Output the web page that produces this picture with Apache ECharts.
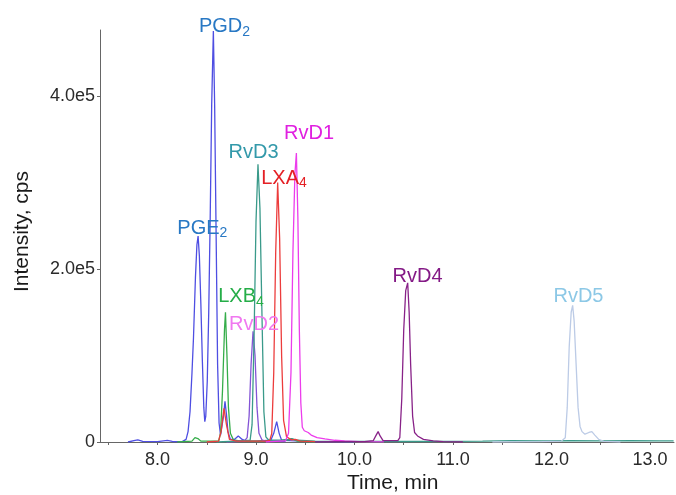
<!DOCTYPE html>
<html>
<head>
<meta charset="utf-8">
<script src="https://cdn.jsdelivr.net/npm/echarts@6/dist/echarts.min.js"></script>
<style>html,body{margin:0;padding:0;background:#fff}#c{width:676px;height:495px}</style>
</head>
<body>
<div id="c"></div>
<script>
// ---- data: [time (min), intensity (cps)] ----
const pgTrace = [[7.70,0],[7.76,1500],[7.80,2500],[7.85,800],[8.00,500],[8.10,1800],[8.15,600],[8.25,500],[8.29,3000],[8.31,12000],[8.33,35000],[8.35,80000],[8.365,120000],[8.385,190000],[8.40,228000],[8.412,238000],[8.425,215000],[8.44,160000],[8.455,95000],[8.47,40000],[8.48,23500],[8.49,30000],[8.505,70000],[8.52,150000],[8.535,260000],[8.55,390000],[8.567,475000],[8.58,390000],[8.595,240000],[8.61,90000],[8.625,22000],[8.64,8000],[8.655,10000],[8.67,30000],[8.685,47000],[8.70,32000],[8.715,12000],[8.74,3000],[8.78,3000],[8.82,7000],[8.86,3000],[8.90,1000],[9.00,1000],[9.15,2000],[9.18,10000],[9.21,23500],[9.235,10000],[9.26,2000],[9.35,1500],[9.50,800],[9.70,500],[10.0,300]];
const rvd3Trace = [[8.60,0],[8.80,1000],[8.94,2000],[8.96,20000],[8.98,120000],[9.00,255000],[9.02,321000],[9.04,270000],[9.06,150000],[9.08,35000],[9.10,6000],[9.13,2000],[9.25,2000],[9.33,3000],[9.36,4000],[9.42,2000],[9.60,1000],[10.0,800],[10.5,600],[11.0,700],[11.3,1000],[11.6,1500],[11.9,1200],[12.2,1600],[12.5,1200],[12.8,1500],[13.1,1200],[13.24,1400]];
const lxa4Trace = [[8.50,0],[8.62,1000],[8.645,12000],[8.675,39000],[8.70,20000],[8.73,3000],[8.80,1000],[9.10,1000],[9.14,2000],[9.16,10000],[9.18,80000],[9.20,220000],[9.22,300000],[9.24,235000],[9.26,100000],[9.28,25000],[9.31,6000],[9.36,2500],[9.40,3000],[9.45,1000],[9.60,500]];
const rvd1Trace = [[9.10,0],[9.30,1500],[9.33,10000],[9.355,80000],[9.375,220000],[9.395,310000],[9.41,334000],[9.425,260000],[9.44,130000],[9.455,45000],[9.47,17000],[9.49,13000],[9.51,13000],[9.53,11000],[9.56,8000],[9.62,5000],[9.70,3500],[9.80,2000],[9.90,1200],[10.05,500],[10.3,200]];
const lxb4Trace = [[8.20,0],[8.35,1000],[8.38,5000],[8.41,4000],[8.44,1000],[8.62,1000],[8.64,10000],[8.66,60000],[8.68,130000],[8.69,150000],[8.705,100000],[8.72,40000],[8.74,10000],[8.77,2500],[8.85,1000],[9.20,1000],[9.33,2500],[9.37,3500],[9.42,1000],[9.60,300]];
const rvd2Trace = [[8.70,0],[8.88,1000],[8.91,5000],[8.93,30000],[8.95,90000],[8.97,128000],[8.99,100000],[9.01,40000],[9.03,10000],[9.06,2500],[9.10,800],[9.30,500]];
const rvd4Trace = [[9.60,0],[9.90,500],[10.10,500],[10.19,1500],[10.22,8000],[10.24,12000],[10.26,7000],[10.29,1500],[10.44,1500],[10.46,5000],[10.48,50000],[10.50,130000],[10.52,175000],[10.54,184000],[10.555,150000],[10.57,90000],[10.59,30000],[10.61,11000],[10.64,7000],[10.70,3000],[10.80,1200],[10.90,500],[11.10,0]];
const rvd5Trace = [[11.40,0],[11.90,500],[12.10,1000],[12.14,5000],[12.16,40000],[12.18,110000],[12.20,150000],[12.215,158000],[12.23,140000],[12.25,90000],[12.27,40000],[12.29,18000],[12.31,12000],[12.34,9000],[12.38,11000],[12.41,12000],[12.44,8000],[12.48,3000],[12.53,800],[12.70,0]];

// peak labels: [time, intensity] anchor (label centre), text
const labelNames = ['PGD{s|2}','PGE{s|2}','RvD3','RvD1','LXA{s|4}','LXB{s|4}','RvD2','RvD4','RvD5'];
const labelAnchors = [[8.68,480000],[8.455,247000],[8.975,335000],[9.538,357000],[9.284,305000],[8.848,168000],[8.98,135500],[10.64,191500],[12.274,168500]];
const labelColors = ['#2878c4','#2878c4','#3399aa','#e020e0','#e42025','#25ad48','#f078f0','#841a86','#8cc8e6'];

const xLabelValues = [8,9,10,11,12,13];
const xTickValues = [7.5,8,8.5,9,9.5,10,10.5,11,11.5,12,12.5,13];
const yTickValues = [0,200000,400000];
const yTickLabels = ['0','2.0e5','4.0e5'];

const traces = [
  {d: pgTrace, c: '#4e4ee2'},
  {d: lxb4Trace, c: '#35ad4a'},
  {d: rvd2Trace, c: '#8454d6'},
  {d: rvd3Trace, c: '#3a9a8a'},
  {d: lxa4Trace, c: '#ec3c3c'},
  {d: rvd1Trace, c: '#ec3cec'},
  {d: rvd4Trace, c: '#882288'},
  {d: rvd5Trace, c: '#bccbe6'}
];

const FONT = 'Liberation Sans, Arial, sans-serif';
const series = traces.map(t => ({
  type: 'line', data: t.d, showSymbol: false, symbol: 'none',
  lineStyle: {color: t.c, width: 1.3}, itemStyle: {color: t.c},
  silent: true, animation: false, z: 2
}));
series.push({
  type: 'scatter', clip: false, symbolSize: 0, silent: true, animation: false, z: 5,
  itemStyle: {opacity: 1},
  data: labelAnchors.map((p, i) => ({
    value: p, name: labelNames[i],
    label: {
      show: true, position: 'inside', formatter: labelNames[i],
      color: labelColors[i], fontSize: 20, fontFamily: FONT,
      rich: {s: {fontSize: 14, color: labelColors[i], fontFamily: FONT, padding: [10, 0, 0, 0]}}
    }
  }))
});

const chart = echarts.init(document.getElementById('c'));
chart.setOption({
  animation: false,
  grid: {left: 100, right: 2, top: 30, bottom: 53, containLabel: false},
  xAxis: {
    type: 'value', min: 7.416, max: 13.244,
    axisLine: {show: true, lineStyle: {color: '#666', width: 1}},
    axisTick: {show: true, length: 3, customValues: xTickValues, lineStyle: {color: '#666'}},
    axisLabel: {customValues: xLabelValues, formatter: v => v.toFixed(1), color: '#2a2a2a', fontSize: 18, fontFamily: FONT, margin: 9},
    splitLine: {show: false}
  },
  yAxis: {
    type: 'value', min: 0, max: 476300,
    axisLine: {show: true, lineStyle: {color: '#666', width: 1}},
    axisTick: {show: true, length: 3, customValues: yTickValues, lineStyle: {color: '#666'}},
    axisLabel: {customValues: yTickValues, formatter: v => yTickLabels[yTickValues.indexOf(v)], color: '#2a2a2a', fontSize: 18, fontFamily: FONT, margin: 5},
    splitLine: {show: false}
  },
  graphic: [
    {type: 'text', left: 347, top: 473, style: {text: 'Time, min', fontSize: 21, fontFamily: FONT, fill: '#1a1a1a'}},
    {type: 'text', rotation: Math.PI / 2, x: 12, y: 292, style: {text: 'Intensity, cps', fontSize: 21, fontFamily: FONT, fill: '#1a1a1a'}}
  ],
  series: series
});
</script>
</body>
</html>
